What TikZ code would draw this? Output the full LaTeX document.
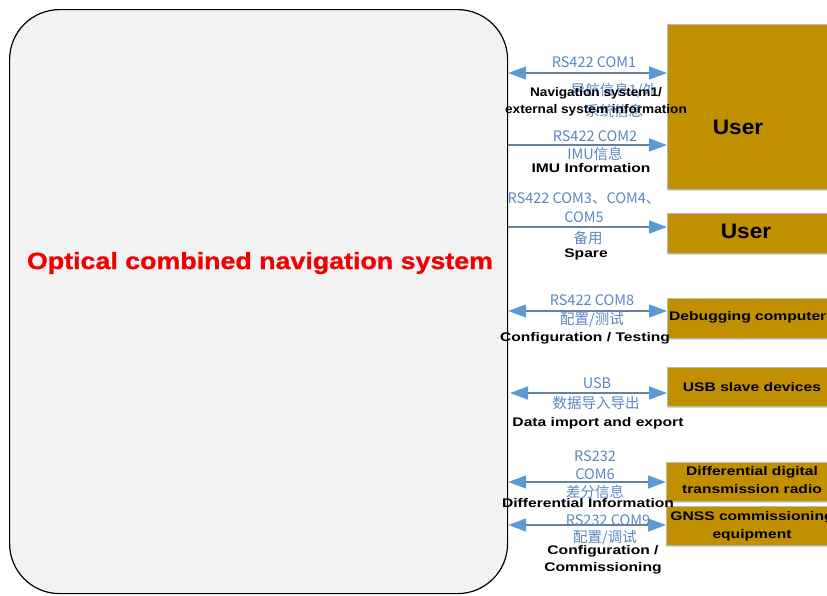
\documentclass[tikz,border=0pt]{standalone}
\usepackage{fontspec}
\setmainfont{Liberation Sans}
\newfontfamily\cjk{Noto Sans CJK SC}
\newfontfamily\widefont[FakeStretch=1.25]{Liberation Sans}
\newfontfamily\midfont[FakeStretch=1.09]{Liberation Sans}
\newfontfamily\userfont[FakeStretch=1.08]{Liberation Sans}
\newfontfamily\titlefont[FakeStretch=1.14,FakeBold=1]{Liberation Sans}
\usetikzlibrary{arrows.meta,shadows}
\definecolor{gold}{RGB}{192,144,0}
\definecolor{arrowblue}{RGB}{91,155,213}
\definecolor{linec}{RGB}{105,128,160}
\definecolor{lbl}{RGB}{88,135,195}
\definecolor{panel}{RGB}{242,242,242}
\definecolor{titlered}{RGB}{240,0,0}
\tikzset{
  ubox/.style={draw=gray!55, line width=0.8pt, fill=gold, inner sep=0pt, anchor=north west,
    drop shadow={opacity=0.35, shadow xshift=1pt, shadow yshift=-2pt}},
  btxt/.style={font=\widefont\bfseries\fontsize{12.5}{18}\selectfont, align=center, inner sep=0pt},
  bigtxt/.style={font=\userfont\bfseries\fontsize{21}{24}\selectfont, inner sep=0pt},
  blt/.style={text=lbl, font=\cjk\fontsize{14.5}{18}\selectfont, align=center, inner sep=0pt},
  blk/.style={font=\widefont\bfseries\fontsize{12.5}{17}\selectfont, align=center, inner sep=0pt},
  tipb/.tip={Triangle[length=18pt,width=13pt,color=arrowblue]},
  arr1/.style={draw=linec, line width=1.5pt, -tipb},
  arr2/.style={draw=linec, line width=1.5pt, tipb-tipb},
}
\begin{document}
\begin{tikzpicture}[x=1pt,y=-1pt]
\useasboundingbox (0,0) rectangle (827,595);
\clip (0,0) rectangle (827,595);
% main system
\node[draw=black, line width=1.2pt, fill=panel, rounded corners=50pt, minimum width=498pt,
      minimum height=584pt, inner sep=0pt, anchor=north west] (sys) at (9,9) {};
\node[text=titlered, font=\titlefont\bfseries\fontsize{23.5}{26}\selectfont, inner sep=0pt] (title) at (260,263)
  {Optical combined navigation system};
% peripheral boxes
\node[ubox, minimum width=180pt, minimum height=165pt] (u1) at (667,24) {};
\node[ubox, minimum width=180pt, minimum height=40pt] (u2) at (667,213) {};
\node[ubox, minimum width=180pt, minimum height=40pt] (dbg) at (667,298) {};
\node[ubox, minimum width=180pt, minimum height=39pt] (usb) at (667,367) {};
\node[ubox, minimum width=180pt, minimum height=39pt] (diff) at (666,462) {};
\node[ubox, minimum width=180pt, minimum height=39pt] (gnss) at (666,506) {};
\node[bigtxt] (u1t) at (738,127) {User};
\node[bigtxt] (u2t) at (746,231) {User};
\node[btxt, anchor=west] (dbgt) at (669,317) {Debugging computers};
\node[btxt] (usbt) at (752,387) {USB slave devices};
\node[btxt] (difft) at (752,480) {Differential digital\\transmission radio};
\node[btxt] (gnsst) at (752,526) {GNSS commissioning\\equipment};
% connectors
\draw[arr2] (sys.east |- 0,73) -- (u1.west |- 0,73);
\draw[arr1] (sys.east |- 0,145) -- (u1.west |- 0,145);
\draw[arr1] (sys.east |- 0,227) -- (u2.west |- 0,227);
\draw[arr2] (sys.east |- 0,311) -- (dbg.west |- 0,311);
\draw[arr2] (510,393) -- (usb.west |- 0,393);
\draw[arr2] (sys.east |- 0,482) -- (diff.west |- 0,482);
\draw[arr2] (sys.east |- 0,525) -- (gnss.west |- 0,525);
% connector labels
\node[blt] (l1a) at (594,62) {RS422 COM1};
\node[blt, font=\cjk\fontsize{14.5}{21}\selectfont] (l1b) at (614,100) {导航信息1/外\\系统信息};
\node[blk, font=\midfont\bfseries\fontsize{12.5}{17}\selectfont] (l1c) at (596,102) {Navigation system1/\\external system information};
\node[blt] (l2a) at (595,136) {RS422 COM2};
\node[blt] (l2b) at (595,154) {IMU信息};
\node[blk] (l2c) at (591,168) {IMU Information};
\node[blt, font=\cjk\fontsize{14.5}{19}\selectfont] (l3a) at (584,208) {RS422 COM3、COM4、\\COM5};
\node[blt] (l3b) at (588,238) {备用};
\node[blk] (l3c) at (586,254) {Spare};
\node[blt] (l4a) at (592,300) {RS422 COM8};
\node[blt] (l4b) at (592,320) {配置/测试};
\node[blk] (l4c) at (585,338) {Configuration / Testing};
\node[blt] (l5a) at (597,383) {USB};
\node[blt] (l5b) at (596,403) {数据导入导出};
\node[blk] (l5c) at (598,423) {Data import and export};
\node[blt] (l6a) at (595,475) {RS232\\COM6\\差分信息};
\node[blk] (l6c) at (588,503) {Differential Information};
\node[blt] (l7a) at (608,520) {RS232 COM9};
\node[blt] (l7b) at (605,538) {配置/调试};
\node[blk] (l7c) at (603,560) {Configuration /\\Commissioning};
\end{tikzpicture}
\end{document}
